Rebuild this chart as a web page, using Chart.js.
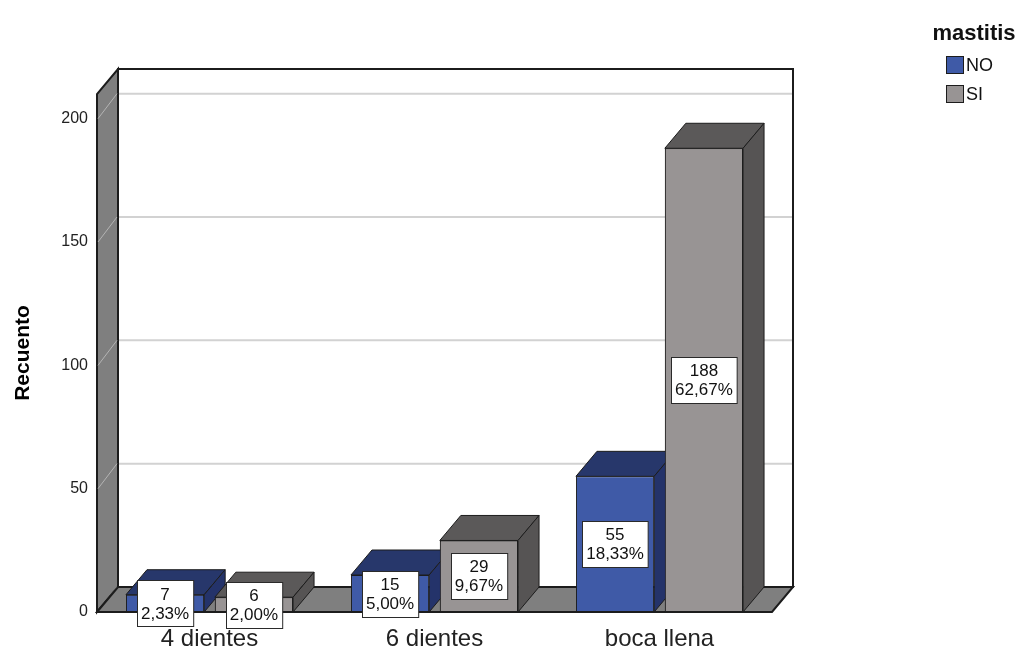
<!DOCTYPE html>
<html>
<head>
<meta charset="utf-8">
<script src="https://cdn.jsdelivr.net/npm/chart.js@4.4.1/dist/chart.umd.min.js"></script>
<style>
  html, body { margin: 0; padding: 0; background: #ffffff; }
  #wrap { width: 1023px; height: 648px; position: relative; }
</style>
</head>
<body>
<div id="wrap"><canvas id="chart"></canvas></div>
<script>
// datos del gráfico
const categories = ['4 dientes', '6 dientes', 'boca llena'];
const seriesNames = ['NO', 'SI'];
const countNO = [7, 15, 55];
const countSI = [6, 29, 188];
const pctNO = ['2,33%', '5,00%', '18,33%'];
const pctSI = ['2,00%', '9,67%', '62,67%'];
const yTicks = [0, 50, 100, 150, 200];
const legendTitle = 'mastitis';
const yTitle = 'Recuento';

// estilo 3D
const DX = 21, DY = -25;
const EDGE = '#1c1c1c';
const WALL = '#7f7f7f';
const colors = {
    NO: { front: '#3f5aa7', top: '#27376b', side: '#24336a' },
    SI: { front: '#989494', top: '#5b5959', side: '#565454' }
};
const FONT = 'Arial, "Liberation Sans", sans-serif';

function face(ctx, pts, fill, lw) {
    ctx.beginPath();
    ctx.moveTo(pts[0][0], pts[0][1]);
    for (let i = 1; i < pts.length; i++) ctx.lineTo(pts[i][0], pts[i][1]);
    ctx.closePath();
    ctx.fillStyle = fill;
    ctx.fill();
    ctx.strokeStyle = EDGE;
    ctx.lineWidth = lw || 1;
    ctx.stroke();
}

function barFaces(ctx, el, c) {
    const { x, y, base, width } = el.getProps(['x', 'y', 'base', 'width'], true);
    const l = x - width / 2, r = x + width / 2;
    face(ctx, [[l, y], [l + DX, y + DY], [r + DX, y + DY], [r, y]], c.top);
    face(ctx, [[r, y], [r + DX, y + DY], [r + DX, base + DY], [r, base]], c.side);
}

// paredes, suelo y líneas de cuadrícula
const wallsPlugin = {
    id: 'walls',
    beforeDatasetsDraw(chart) {
        const { ctx, chartArea: a, scales: { y } } = chart;
        ctx.save();
        // pared del fondo
        face(ctx, [[a.left + DX, a.top + DY], [a.right + DX, a.top + DY],
                   [a.right + DX, a.bottom + DY], [a.left + DX, a.bottom + DY]], '#ffffff', 2);
        ctx.strokeStyle = '#d2d2d2';
        ctx.lineWidth = 2;
        yTicks.forEach(v => {
            if (!v) return;
            const py = y.getPixelForValue(v) + DY;
            ctx.beginPath();
            ctx.moveTo(a.left + DX + 1, py);
            ctx.lineTo(a.right + DX - 1, py);
            ctx.stroke();
        });
        // pared izquierda
        face(ctx, [[a.left, a.bottom], [a.left, a.top], [a.left + DX, a.top + DY],
                   [a.left + DX, a.bottom + DY]], WALL, 2);
        ctx.strokeStyle = '#b4b4b4';
        ctx.lineWidth = 1;
        yTicks.forEach(v => {
            const py = y.getPixelForValue(v);
            ctx.beginPath();
            ctx.moveTo(a.left + 1, py);
            ctx.lineTo(a.left + DX - 1, py + DY);
            ctx.stroke();
        });
        // suelo
        face(ctx, [[a.left, a.bottom], [a.left + DX, a.bottom + DY],
                   [a.right + DX, a.bottom + DY], [a.right, a.bottom]], WALL, 2);
        ctx.restore();
    },
    afterDatasetsDraw(chart) {
        const { ctx } = chart;
        const metaNO = chart.getDatasetMeta(0);
        const metaSI = chart.getDatasetMeta(1);
        ctx.save();
        // caras laterales/superiores: NO primero, luego la barra SI encima
        for (let i = 0; i < categories.length; i++) {
            barFaces(ctx, metaNO.data[i], colors.NO);
            metaSI.data[i].draw(ctx);
            barFaces(ctx, metaSI.data[i], colors.SI);
        }
        // etiquetas de recuento y porcentaje
        const labels = [[countNO, pctNO], [countSI, pctSI]];
        ctx.font = '17px ' + FONT;
        ctx.textAlign = 'center';
        ctx.textBaseline = 'middle';
        [metaNO, metaSI].forEach((meta, d) => {
            meta.data.forEach((el, i) => {
                const { x, y, base } = el.getProps(['x', 'y', 'base'], true);
                const l1 = String(labels[d][0][i]);
                const l2 = labels[d][1][i];
                const w = Math.max(ctx.measureText(l1).width, ctx.measureText(l2).width) + 8;
                const lh = 19;
                const h = lh * 2 + 8;
                const cy = (y + base) / 2;
                const bx = Math.round(x - w / 2) + 0.5;
                const by = Math.round(cy - h / 2) + 0.5;
                ctx.fillStyle = '#ffffff';
                ctx.fillRect(bx, by, w, h);
                ctx.strokeStyle = '#2a2a2a';
                ctx.lineWidth = 1;
                ctx.strokeRect(bx, by, w, h);
                ctx.fillStyle = '#111111';
                ctx.fillText(l1, x, cy - lh / 2 + 1);
                ctx.fillText(l2, x, cy + lh / 2 + 1);
            });
        });
        ctx.restore();
    },
    afterDraw(chart) {
        const { ctx } = chart;
        ctx.save();
        // leyenda
        ctx.fillStyle = '#111111';
        ctx.font = 'bold 22px ' + FONT;
        ctx.textAlign = 'center';
        ctx.textBaseline = 'alphabetic';
        ctx.fillText(legendTitle, 974, 40);
        ctx.font = '18px ' + FONT;
        ctx.textAlign = 'left';
        ctx.textBaseline = 'middle';
        seriesNames.forEach((name, i) => {
            const ty = 56 + i * 29;
            ctx.fillStyle = colors[name].front;
            ctx.fillRect(946.5, ty + 0.5, 17, 17);
            ctx.strokeStyle = EDGE;
            ctx.lineWidth = 1;
            ctx.strokeRect(946.5, ty + 0.5, 17, 17);
            ctx.fillStyle = '#111111';
            ctx.fillText(name, 966, ty + 10);
        });
        ctx.restore();
    }
};

const ctx = document.getElementById('chart');
new Chart(ctx, {
    type: 'bar',
    data: {
        labels: categories,
        datasets: [
            {
                label: seriesNames[0],
                data: countNO,
                backgroundColor: colors.NO.front,
                borderColor: EDGE,
                borderWidth: 1,
                borderSkipped: false
            },
            {
                label: seriesNames[1],
                data: countSI,
                backgroundColor: colors.SI.front,
                borderColor: EDGE,
                borderWidth: 1,
                borderSkipped: false
            }
        ]
    },
    options: {
        responsive: true,
        maintainAspectRatio: false,
        animation: false,
        devicePixelRatio: 1,
        categoryPercentage: 0.79,
        barPercentage: 0.88,
        layout: { padding: { top: 94, right: 251, bottom: 0, left: 0 } },
        plugins: {
            legend: { display: false },
            tooltip: { enabled: false }
        },
        scales: {
            x: {
                grid: { display: false, drawTicks: false },
                border: { display: false },
                ticks: {
                    color: '#222222',
                    font: { family: FONT, size: 24 },
                    padding: 13
                },
                afterFit(scale) { scale.height = 36; }
            },
            y: {
                min: 0,
                max: 210,
                grid: { display: false, drawTicks: false },
                border: { display: false },
                afterBuildTicks(scale) { scale.ticks = yTicks.map(v => ({ value: v })); },
                ticks: {
                    color: '#222222',
                    font: { family: FONT, size: 16 },
                    padding: 9
                },
                title: {
                    display: true,
                    text: yTitle,
                    color: '#000000',
                    font: { family: FONT, size: 21, weight: 'bold' },
                    padding: { top: 11, bottom: 0 }
                },
                afterFit(scale) { scale.width = 97; }
            }
        }
    },
    plugins: [wallsPlugin]
});
</script>
</body>
</html>
